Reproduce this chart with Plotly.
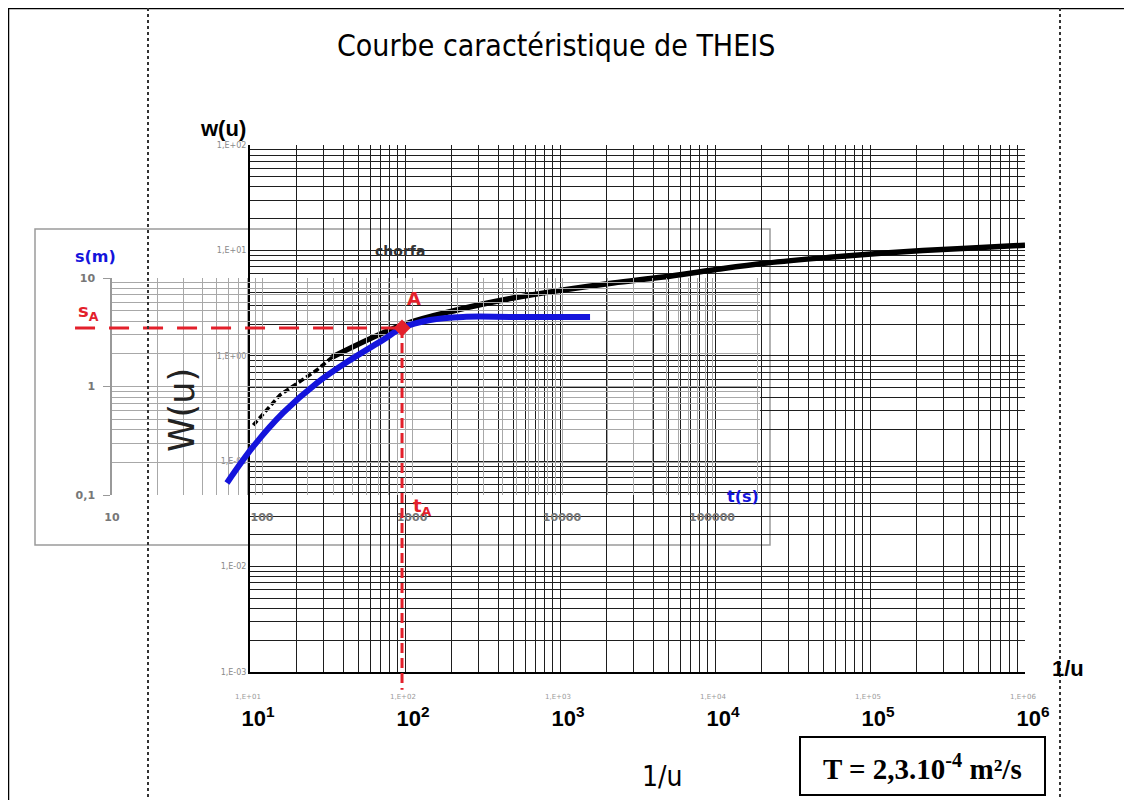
import plotly.graph_objects as go

# ---------------------------------------------------------
# DATA
# ---------------------------------------------------------

# Theis type curve W(u) against 1/u
theis_inv_u = [10.5, 15.6, 27, 34, 96, 216, 498, 1045, 2200, 4620, 9700, 21600, 57700, 156000, 423000, 1000000]
theis_w = [0.22, 0.425, 0.733, 0.975, 1.96, 2.72, 3.53, 4.21, 4.91, 5.59, 6.52, 7.59, 8.65, 9.66, 10.5, 11.2]

# field data "chorfa": drawdown s (m) against time t (s)
data_t = [58.4, 87, 138, 233, 386, 641, 858, 1318, 2188, 4710, 15380]
data_s = [0.129, 0.277, 0.57, 1.08, 1.75, 2.69, 3.46, 4.1, 4.38, 4.38, 4.38]

# match point A and the ends of its reading lines
t_A = 858
s_A = 3.46
t_line_start = 5.67
s_line_end = 0.0016

# tick labels
main_x_decades = [1, 2, 3, 4, 5, 6]
main_y_decades = [-3, -2, -1, 0, 1, 2]
main_y_text = ["1,E-03", "1,E-02", "1,E-01", "1,E+00", "1,E+01", "1,E+02"]
ov_x_vals = [10, 100, 1000, 10000, 100000]
ov_x_text = ["10", "100", "1000", "10000", "100000"]
ov_y_vals = [0.1, 1, 10]
ov_y_text = ["0,1", "1", "10"]

# ---------------------------------------------------------
# GEOMETRY
# ---------------------------------------------------------

W, H = 1132, 800
OFF = 8  # the page body margin shifts the figure by 8 px


def px_x(p):
    return (p - OFF) / W


def px_y(p):
    return 1 - (p - OFF) / H


def minor_vals(k0, k1):
    return [m * 10.0 ** k for k in range(k0, k1) for m in range(2, 10)]


# overlay calibration: value 10 at (112, 278), decade = 150 px / 108.5 px
OV_X0, OV_DX = 112, 150.0
OV_Y0, OV_DY = 278, 108.5

RED = "#e3202b"
BLUE = "#1414dc"
GRID = "#1e1e1e"
OV_GRID = "#a8a8a8"

fig = go.Figure()

# Theis curve (main axes)
fig.add_trace(go.Scatter(x=theis_inv_u[:4], y=theis_w[:4], mode="lines",
                         line=dict(color="black", width=3.5, dash="6px,3px"), xaxis="x", yaxis="y"))
fig.add_trace(go.Scatter(x=theis_inv_u[3:], y=theis_w[3:], mode="lines",
                         line=dict(color="black", width=5.5, shape="spline"), xaxis="x", yaxis="y"))

# field curve (overlay axes)
fig.add_trace(go.Scatter(x=data_t, y=data_s, mode="lines",
                         line=dict(color=BLUE, width=6, shape="spline"), xaxis="x2", yaxis="y2"))

# match point lines on a full-page axis aligned with the overlay
fig.add_trace(go.Scatter(x=[t_line_start, t_A], y=[s_A, s_A], mode="lines",
                         line=dict(color=RED, width=3, dash="20px,14px"), xaxis="x3", yaxis="y3"))
fig.add_trace(go.Scatter(x=[t_A, t_A], y=[s_A, s_line_end], mode="lines",
                         line=dict(color=RED, width=3, dash="10px,5px"), xaxis="x3", yaxis="y3"))
fig.add_trace(go.Scatter(x=[t_A], y=[s_A], mode="markers",
                         marker=dict(color=RED, size=13, symbol="diamond"), xaxis="x3", yaxis="y3"))

main_axis_font = dict(family="Arial, Liberation Sans, sans-serif", size=22, color="black")
ov_tick_font = dict(family="DejaVu Sans", size=11, color="#777777", weight="bold")

fig.update_layout(
    template="none",
    width=W,
    height=H,
    autosize=False,
    margin=dict(l=0, r=0, t=0, b=0, pad=0),
    paper_bgcolor="white",
    plot_bgcolor="rgba(0,0,0,0)",
    showlegend=False,
    xaxis=dict(
        type="log", domain=[px_x(250), px_x(1025)], range=[1, 6], anchor="y", automargin=False,
        tickmode="array", tickvals=[10.0 ** k for k in main_x_decades],
        ticktext=["<b>10<sup>%d</sup></b>" % k for k in main_x_decades],
        tickfont=main_axis_font, ticks="", ticklabelstandoff=26, ticklabelshift=8,
        showgrid=True, gridcolor=GRID, gridwidth=1,
        minor=dict(tickmode="array", tickvals=minor_vals(1, 6), showgrid=True, gridcolor=GRID, gridwidth=1, ticks=""),
        showline=True, linecolor="black", linewidth=2, zeroline=False,
    ),
    yaxis=dict(
        type="log", domain=[px_y(672), px_y(145)], range=[-3, 2], anchor="x", automargin=False,
        tickmode="array", tickvals=[10.0 ** k for k in main_y_decades], ticktext=main_y_text,
        tickfont=dict(family="DejaVu Sans", size=8, color="#8a8a8a"), ticks="",
        showgrid=True, gridcolor=GRID, gridwidth=1,
        minor=dict(tickmode="array", tickvals=minor_vals(-3, 2), showgrid=True, gridcolor=GRID, gridwidth=1, ticks=""),
        showline=True, linecolor="black", linewidth=2, zeroline=False,
    ),
    xaxis2=dict(
        type="log", domain=[px_x(OV_X0), px_x(760)], range=[1, 1 + (760 - OV_X0) / OV_DX], anchor="y2",
        automargin=False, tickmode="array", tickvals=ov_x_vals, ticktext=ov_x_text,
        tickfont=ov_tick_font, ticks="", ticklabelstandoff=14,
        showgrid=True, gridcolor=OV_GRID, gridwidth=1,
        minor=dict(tickmode="array", tickvals=minor_vals(1, 6), showgrid=True, gridcolor=OV_GRID, gridwidth=1, ticks=""),
        showline=False, zeroline=False,
    ),
    yaxis2=dict(
        type="log", domain=[px_y(495), px_y(OV_Y0)], range=[-1, 1], anchor="x2", automargin=False,
        tickmode="array", tickvals=ov_y_vals, ticktext=ov_y_text,
        tickfont=ov_tick_font, ticks="outside", ticklen=7, tickcolor="#999999", ticklabelstandoff=6,
        showgrid=True, gridcolor=OV_GRID, gridwidth=1,
        minor=dict(tickmode="array", tickvals=minor_vals(-1, 1), showgrid=True, gridcolor=OV_GRID, gridwidth=1, ticks=""),
        showline=True, linecolor="#999999", linewidth=1.5, zeroline=False,
    ),
    # invisible full-figure axes sharing the overlay's scale (for the reading lines)
    xaxis3=dict(
        type="log", domain=[0, 1], anchor="y3", visible=False, automargin=False,
        range=[1 + (OFF - OV_X0) / OV_DX, 1 + (W + OFF - OV_X0) / OV_DX],
    ),
    yaxis3=dict(
        type="log", domain=[0, 1], anchor="x3", visible=False, automargin=False,
        range=[1 - (H + OFF - OV_Y0) / OV_DY, 1 + (OV_Y0 - OFF) / OV_DY],
    ),
)

# page frame and dotted page margins
shapes = [
    dict(type="line", xref="paper", yref="paper", x0=px_x(8), x1=px_x(8), y0=px_y(8), y1=0,
         line=dict(color="black", width=2.5)),
    dict(type="line", xref="paper", yref="paper", x0=px_x(8), x1=1, y0=px_y(8), y1=px_y(8),
         line=dict(color="black", width=2.5)),
    dict(type="line", xref="paper", yref="paper", x0=px_x(148), x1=px_x(148), y0=px_y(8), y1=0,
         line=dict(color="#333333", width=2, dash="dot")),
    dict(type="line", xref="paper", yref="paper", x0=px_x(1060), x1=px_x(1060), y0=px_y(8), y1=0,
         line=dict(color="#333333", width=2, dash="dot")),
    # overlay sheet border
    dict(type="rect", xref="paper", yref="paper", x0=px_x(35), x1=px_x(770), y0=px_y(545), y1=px_y(229),
         line=dict(color="#9a9a9a", width=1.5), layer="below"),
    # transmissivity box
    dict(type="rect", xref="paper", yref="paper", x0=px_x(800), x1=px_x(1045), y0=px_y(795), y1=px_y(737),
         line=dict(color="black", width=2)),
]
fig.update_layout(shapes=shapes)


def note(text, x, y, size, color="black", family="Arial, Liberation Sans, sans-serif", angle=0, **kw):
    fig.add_annotation(text=text, x=px_x(x), y=px_y(y), xref="paper", yref="paper", showarrow=False,
                       font=dict(family=family, size=size, color=color), textangle=angle,
                       xanchor="center", yanchor="middle", **kw)


narrow = "Liberation Sans Narrow, Arial Narrow, DejaVu Sans Condensed, Liberation Sans, sans-serif"
note("Courbe caractéristique de THEIS", 556, 45, 30, family=narrow)
note("<b>w(u)</b>", 223, 128, 22)
note("<b>1/u</b>", 1068, 668, 22)
note("1/u", 662, 776, 28, family=narrow)
note("<b>T = 2,3.10<sup>-4</sup> m²/s</b>", 922, 767, 29, family="Liberation Serif, Times New Roman, serif")
note("W(u)", 182, 410, 35, color="#222222", family="DejaVu Sans", angle=-90)
note("<b>chorfa</b>", 400, 251, 14, color="#333333", family="DejaVu Sans")
note("<b>s(m)</b>", 95, 256, 16, color=BLUE, family="DejaVu Sans")
note("<b>t(s)</b>", 743, 497, 16, color=BLUE, family="DejaVu Sans")
note("<b>s<sub>A</sub></b>", 88, 312, 18, color=RED, family="DejaVu Sans")
note("<b>A</b>", 414, 298, 18, color=RED, family="DejaVu Sans")
note("<b>t<sub>A</sub></b>", 422, 507, 18, color=RED, family="DejaVu Sans")

# faint scientific labels above the big decade labels
for k in main_x_decades:
    fig.add_annotation(text="1,E+0%d" % k, x=k, y=px_y(703), xref="x", yref="paper", showarrow=False,
                       font=dict(family="DejaVu Sans", size=7, color="#9a9a9a"), xshift=-2)

fig.write_html("out.html")
